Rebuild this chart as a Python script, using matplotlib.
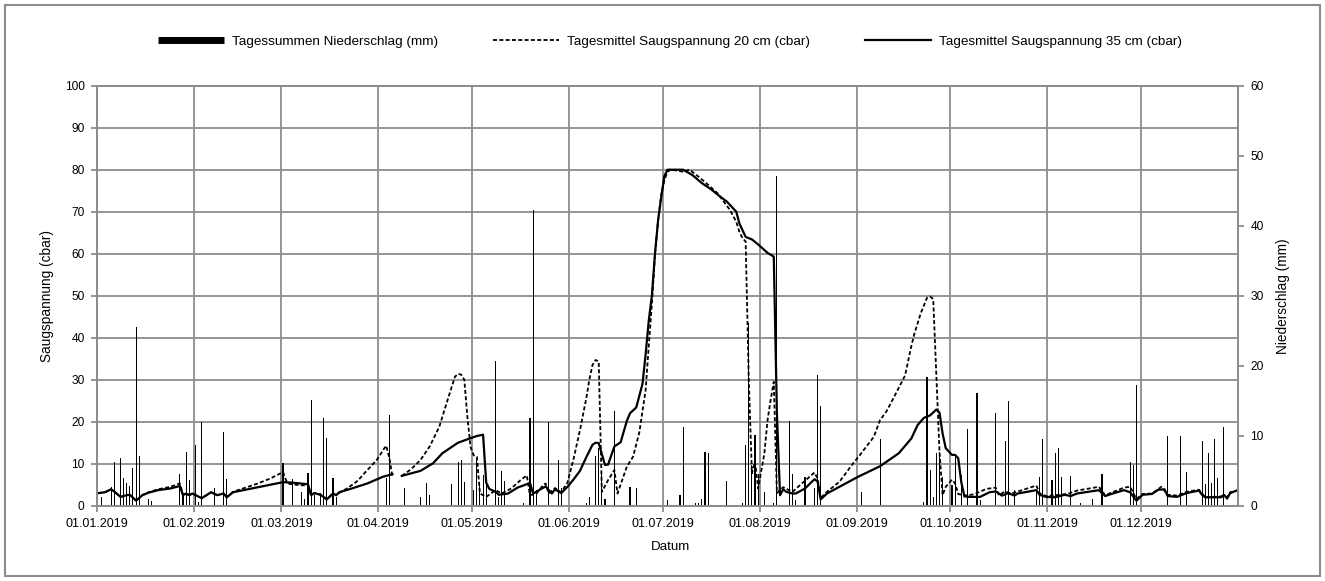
import numpy as np
import pandas as pd
import matplotlib
matplotlib.use('Agg')
import matplotlib.pyplot as plt
import matplotlib.dates as mdates
from matplotlib.lines import Line2D
from matplotlib.patches import Rectangle

plt.rcParams['font.family'] = ['Liberation Sans', 'DejaVu Sans']
plt.rcParams['font.size'] = 9

nan = float('nan')
start = pd.Timestamp('2019-01-01')

# Tagessummen Niederschlag (Tag im Jahr, 0 = 01.01.2019)
rain_day = [1, 4, 5, 7, 8, 9, 10, 11, 12, 13, 16, 17, 26, 27, 28, 29, 31, 32, 33, 37, 40, 41,
            59, 62, 65, 66, 67, 68, 69, 71, 72, 73, 75, 76, 92, 93, 98, 103, 105, 106,
            113, 115, 116, 117, 120, 121, 122, 123, 124, 127, 128, 129, 130, 136, 138, 139,
            140, 144, 147, 148, 156, 157, 159, 160, 161, 162, 165, 170, 172, 182, 186, 187,
            191, 192, 193, 194, 195, 201, 206, 207, 208, 209, 210, 211, 213, 216, 217, 221,
            222, 223, 226, 229, 230, 231, 244, 250, 264, 265, 266, 267, 268, 269, 270, 273,
            274, 276, 278, 281, 282, 287, 290, 291, 293, 300, 301, 302, 305, 306, 307, 308,
            311, 314, 318, 321, 330, 331, 332, 342, 346, 348, 353, 354, 355, 356, 357, 358, 360]
rain_mm = [1.3, 2.7, 6.3, 6.8, 3.9, 3.2, 2.8, 5.4, 25.5, 7.1, 1.0, 0.7, 4.6, 1.8, 7.7, 3.7, 8.7, 0.6, 12.0, 2.5, 10.5, 3.8,
           6.1, 3.8, 1.9, 1.0, 4.7, 15.1, 1.5, 1.8, 12.6, 9.7, 4.0, 1.3, 4.0, 13.0, 2.5, 1.3, 3.2, 1.5,
           3.1, 6.3, 6.6, 3.4, 2.2, 6.5, 3.0, 4.4, 3.0, 20.7, 1.3, 5.0, 3.5, 0.4, 12.6, 42.3,
           2.2, 12.0, 6.5, 2.5, 0.4, 1.3, 7.1, 8.3, 5.0, 1.0, 13.5, 2.7, 2.5, 0.8, 1.5, 11.3,
           0.4, 0.4, 1.0, 7.7, 7.6, 3.6, 0.4, 8.7, 26.1, 5.8, 10.1, 4.6, 2.0, 0.4, 47.1, 12.1,
           4.6, 0.8, 4.1, 2.6, 18.7, 14.2, 1.9, 9.5, 0.6, 18.4, 5.1, 1.3, 7.5, 7.7, 4.1, 3.0,
           7.0, 4.4, 10.9, 16.1, 0.8, 13.2, 9.2, 15.0, 2.2, 1.9, 4.1, 9.5, 3.7, 7.6, 8.2, 4.1,
           4.2, 0.4, 0.9, 4.5, 6.3, 5.8, 17.3, 10.0, 10.0, 4.8, 9.2, 3.1, 7.6, 3.3, 9.5, 3.9, 11.3]

# Tagesmittel Saugspannung 20 cm (cbar), nan = Messluecke
sp20_day = [0, 2, 4, 5, 7, 9, 10, 12, 14, 16, 19, 23, 26, 27, 28, 29, 30, 33, 36, 38, 40, 41, 43, 47,
            51, 55, 59, 60, 61, 64, 67, 68, 69, 71, 73, 75, 76, 77, 79, 81, 83, 85, 87, 89, 91, 92,
            93, 94, 95, 97, 100, 103, 106, 109, 112, 114, 115, 116, 117, 118, 119, 120, 121, 122,
            124, 127, 129, 132, 135, 137, 138, 140, 142, 143, 144, 146, 148, 150, 152, 154, 156,
            157, 158, 159, 160, 161, 163, 165, 166, 169, 171, 173, 175, 176, 177, 178, 179, 180,
            181, 182, 183, 185, 187, 189, 192, 195, 198, 200, 202, 204, 205, 206, 207, 208, 209,
            210, 211, 213, 214, 215, 216, 217, 218, 219, 222, 225, 229, 230, 231, 233, 237, 241,
            244, 248, 250, 252, 254, 258, 260, 261, 263, 265, 266, 267, 268, 269, 270, 271, 273,
            274, 275, 277, 280, 284, 287, 288, 290, 292, 295, 300, 301, 303, 306, 310, 313, 320,
            322, 328, 330, 332, 334, 337, 340, 342, 345, 348, 352, 354, 359, 361, 362, 364]
sp20_cbar = [3.0, 3.2, 3.9, 3.4, 2.1, 2.5, 2.6, 1.2, 2.5, 3.2, 3.9, 4.5, 5.3, 2.7, 2.9, 2.5, 2.9, 1.8, 3.2, 2.5, 2.9, 2.0, 3.3, 4.3,
             5.3, 6.5, 8.0, 6.0, 5.2, 4.9, 4.8, 2.5, 3.0, 2.6, 1.5, 2.9, 2.5, 3.1, 3.9, 4.9, 6.0, 7.7, 9.3, 10.9, 13.2, 14.3,
             11.5, 6.9, nan, 7.1, 8.7, 10.9, 14.2, 18.8, 26.0, 30.7, 31.4, 31.2, 30.0, 21.0, 14.0, 12.0, 11.7, 2.9,
             2.1, 3.7, 2.9, 4.1, 6.1, 7.2, 2.5, 2.8, 4.7, 5.3, 2.9, 4.2, 3.2, 5.5, 11.3, 18.0, 25.5,
             30.0, 33.5, 34.7, 34.3, 3.3, 6.1, 8.5, 2.9, 9.3, 11.7, 17.5, 27.5, 38.0, 48.0, 60.0, 68.0, 74.0,
             77.5, 79.5, 80.0, 79.8, 79.5, 80.0, 78.3, 76.4, 74.4, 72.4, 70.4, 67.6, 65.2, 63.7, 62.9, 30.0, 7.7,
             10.5, 4.1, 12.5, 20.4, 25.2, 29.5, 3.0, 3.7, 4.4, 3.3, 5.3, 7.9, 6.5, 1.8, 3.3, 5.7, 9.7,
             12.5, 16.4, 20.4, 22.4, 25.2, 31.0, 38.0, 41.0, 45.8, 49.5, 49.8, 49.2, 31.0, 13.0, 2.5, 4.5, 6.2,
             5.3, 2.8, 2.4, 2.7, 4.0, 4.3, 2.5, 3.4, 2.9, 3.6, 4.8, 3.0, 2.3, 2.5, 2.8, 3.6, 4.5,
             2.5, 4.3, 4.5, 1.6, 2.8, 2.9, 4.5, 2.6, 2.4, 3.3, 3.8, 2.0, 2.2, 2.0, 3.2, 3.5]

# Tagesmittel Saugspannung 35 cm (cbar)
sp35_day = [0, 2, 4, 5, 7, 9, 10, 12, 14, 16, 19, 23, 26, 27, 28, 29, 30, 33, 36, 38, 40, 41, 43, 51,
            59, 62, 67, 68, 69, 71, 73, 75, 76, 77, 81, 86, 91, 94, 95, 97, 100, 103, 107, 110, 115,
            118, 121, 123, 124, 125, 127, 128, 131, 134, 138, 139, 140, 143, 145, 146, 148, 150, 152,
            154, 156, 158, 159, 160, 162, 163, 165, 167, 169, 170, 172, 174, 175, 176, 177, 178, 179,
            180, 181, 182, 187, 190, 193, 196, 199, 201, 202, 204, 205, 207, 209, 211, 214, 216, 217,
            218, 219, 220, 222, 223, 226, 229, 230, 231, 233, 238, 243, 250, 256, 260, 262, 264, 266,
            268, 269, 270, 271, 273, 274, 275, 276, 277, 279, 282, 285, 287, 289, 291, 293, 294, 300,
            301, 303, 306, 309, 311, 313, 320, 322, 324, 328, 330, 332, 334, 337, 339, 341, 342, 345,
            348, 352, 353, 354, 359, 360, 361, 362, 364]
sp35_cbar = [3.0, 3.2, 3.9, 3.4, 2.1, 2.5, 2.6, 1.2, 2.5, 3.1, 3.7, 4.1, 4.7, 2.5, 2.9, 2.5, 2.9, 1.8, 3.2, 2.5, 2.9, 2.0, 3.2, 4.4,
             5.6, 5.5, 5.1, 2.5, 3.0, 2.6, 1.5, 2.9, 2.5, 3.2, 4.1, 5.3, 6.9, 7.5, nan, 7.1, 7.7, 8.3, 10.1, 12.5, 15.0,
             15.8, 16.6, 16.9, 5.5, 4.0, 3.3, 2.6, 2.9, 4.3, 5.4, 2.9, 3.3, 4.6, 2.9, 3.9, 3.0, 4.5, 6.3,
             8.3, 11.5, 14.5, 15.0, 14.9, 9.7, 9.8, 14.1, 15.1, 20.2, 22.0, 23.4, 29.0, 36.0, 44.0, 50.0, 60.0, 68.0,
             73.5, 78.5, 80.0, 80.0, 78.7, 76.8, 75.3, 73.5, 72.4, 71.6, 70.0, 67.2, 64.0, 63.4, 62.2, 60.2, 59.3, 22.0,
             2.5, 3.9, 3.3, 2.9, 2.9, 4.1, 6.3, 5.8, 1.5, 2.9, 4.9, 6.9, 9.4, 12.5, 16.0, 19.2, 20.9, 21.5,
             22.9, 22.2, 17.2, 13.7, 12.1, 12.1, 11.3, 5.5, 2.2, 2.1, 2.1, 3.2, 3.4, 2.4, 3.0, 2.4, 2.9, 3.7,
             2.6, 2.1, 2.0, 2.6, 2.3, 2.9, 3.7, 2.3, 2.8, 3.7, 3.2, 1.2, 2.6, 2.8, 3.8, 3.9, 2.3, 2.1,
             3.0, 3.6, 2.6, 2.0, 2.0, 2.6, 1.7, 3.0, 3.6]

grid_c = '#8c8c8c'


def to_dates(days):
    # Werte liegen jeweils in der Mitte des Tages
    return start + pd.to_timedelta(np.asarray(days, dtype=float) + 0.5, unit='D')


fig = plt.figure(figsize=(13.25, 5.81), dpi=100)
ax1 = fig.add_axes([97 / 1325, 75.3 / 581, 1141 / 1325, 420 / 581])
ax2 = ax1.twinx()

# Saugspannung (linke Achse)
ax1.plot(to_dates(sp20_day), sp20_cbar, color='black', lw=1.3, ls=(0, (2.2, 1.3)), zorder=3)
ax1.plot(to_dates(sp35_day), sp35_cbar, color='black', lw=1.6, zorder=3)

# Niederschlag (rechte Achse), schmale Saeulen ohne Kantenglaettung
ax2.bar(to_dates(rain_day), rain_mm, width=0.35, color='black', linewidth=0,
        antialiased=False, zorder=2)

ax1.set_xlim(start, start + pd.Timedelta(days=365))
ax1.set_ylim(0, 100)
ax2.set_ylim(0, 60)
ax1.set_yticks(range(0, 101, 10))
ax2.set_yticks(range(0, 61, 10))

month_starts = pd.date_range('2019-01-01', '2019-12-01', freq='MS')
ax1.set_xticks(month_starts)
ax1.xaxis.set_major_formatter(mdates.DateFormatter('%d.%m.%Y'))

ax1.grid(True, color=grid_c, lw=1.3)
ax1.set_axisbelow(True)
for ax in (ax1, ax2):
    for sp in ax.spines.values():
        sp.set_color(grid_c)
        sp.set_linewidth(1.3)
ax1.tick_params(axis='both', direction='out', length=4, width=1.3, color=grid_c, pad=5)
ax1.tick_params(axis='y', labelsize=8.6)
ax2.tick_params(axis='y', direction='out', length=4, width=1.3, color=grid_c, pad=5, labelsize=8.6)

fig.text(47 / 1325, 1 - 296 / 581, 'Saugspannung (cbar)', rotation=90, ha='center', va='center', fontsize=9.8)
fig.text(1283 / 1325, 1 - 296 / 581, 'Niederschlag (mm)', rotation=90, ha='center', va='center', fontsize=9.8)
fig.text(670 / 1325, 1 - 547 / 581, 'Datum', ha='center', va='center', fontsize=9.6)

handles = [Line2D([], [], color='black', lw=5, solid_capstyle='butt'),
           Line2D([], [], color='black', lw=1.3, ls=(0, (2.2, 1.3))),
           Line2D([], [], color='black', lw=1.6)]
labels = ['Tagessummen Niederschlag (mm)',
          'Tagesmittel Saugspannung 20 cm (cbar)',
          'Tagesmittel Saugspannung 35 cm (cbar)']
fig.legend(handles, labels, loc='center', bbox_to_anchor=(670 / 1325, 1 - 42 / 581), ncol=3,
           frameon=False, fontsize=9.7, handlelength=4.9, handletextpad=0.6, columnspacing=4.1)

# Rahmen um die gesamte Grafik
fig.patches.append(Rectangle((5 / 1325, 5 / 581), 1315 / 1325, 571 / 581, transform=fig.transFigure,
                             fill=False, edgecolor=grid_c, lw=1.5))

fig.savefig('out.png', dpi=100)
